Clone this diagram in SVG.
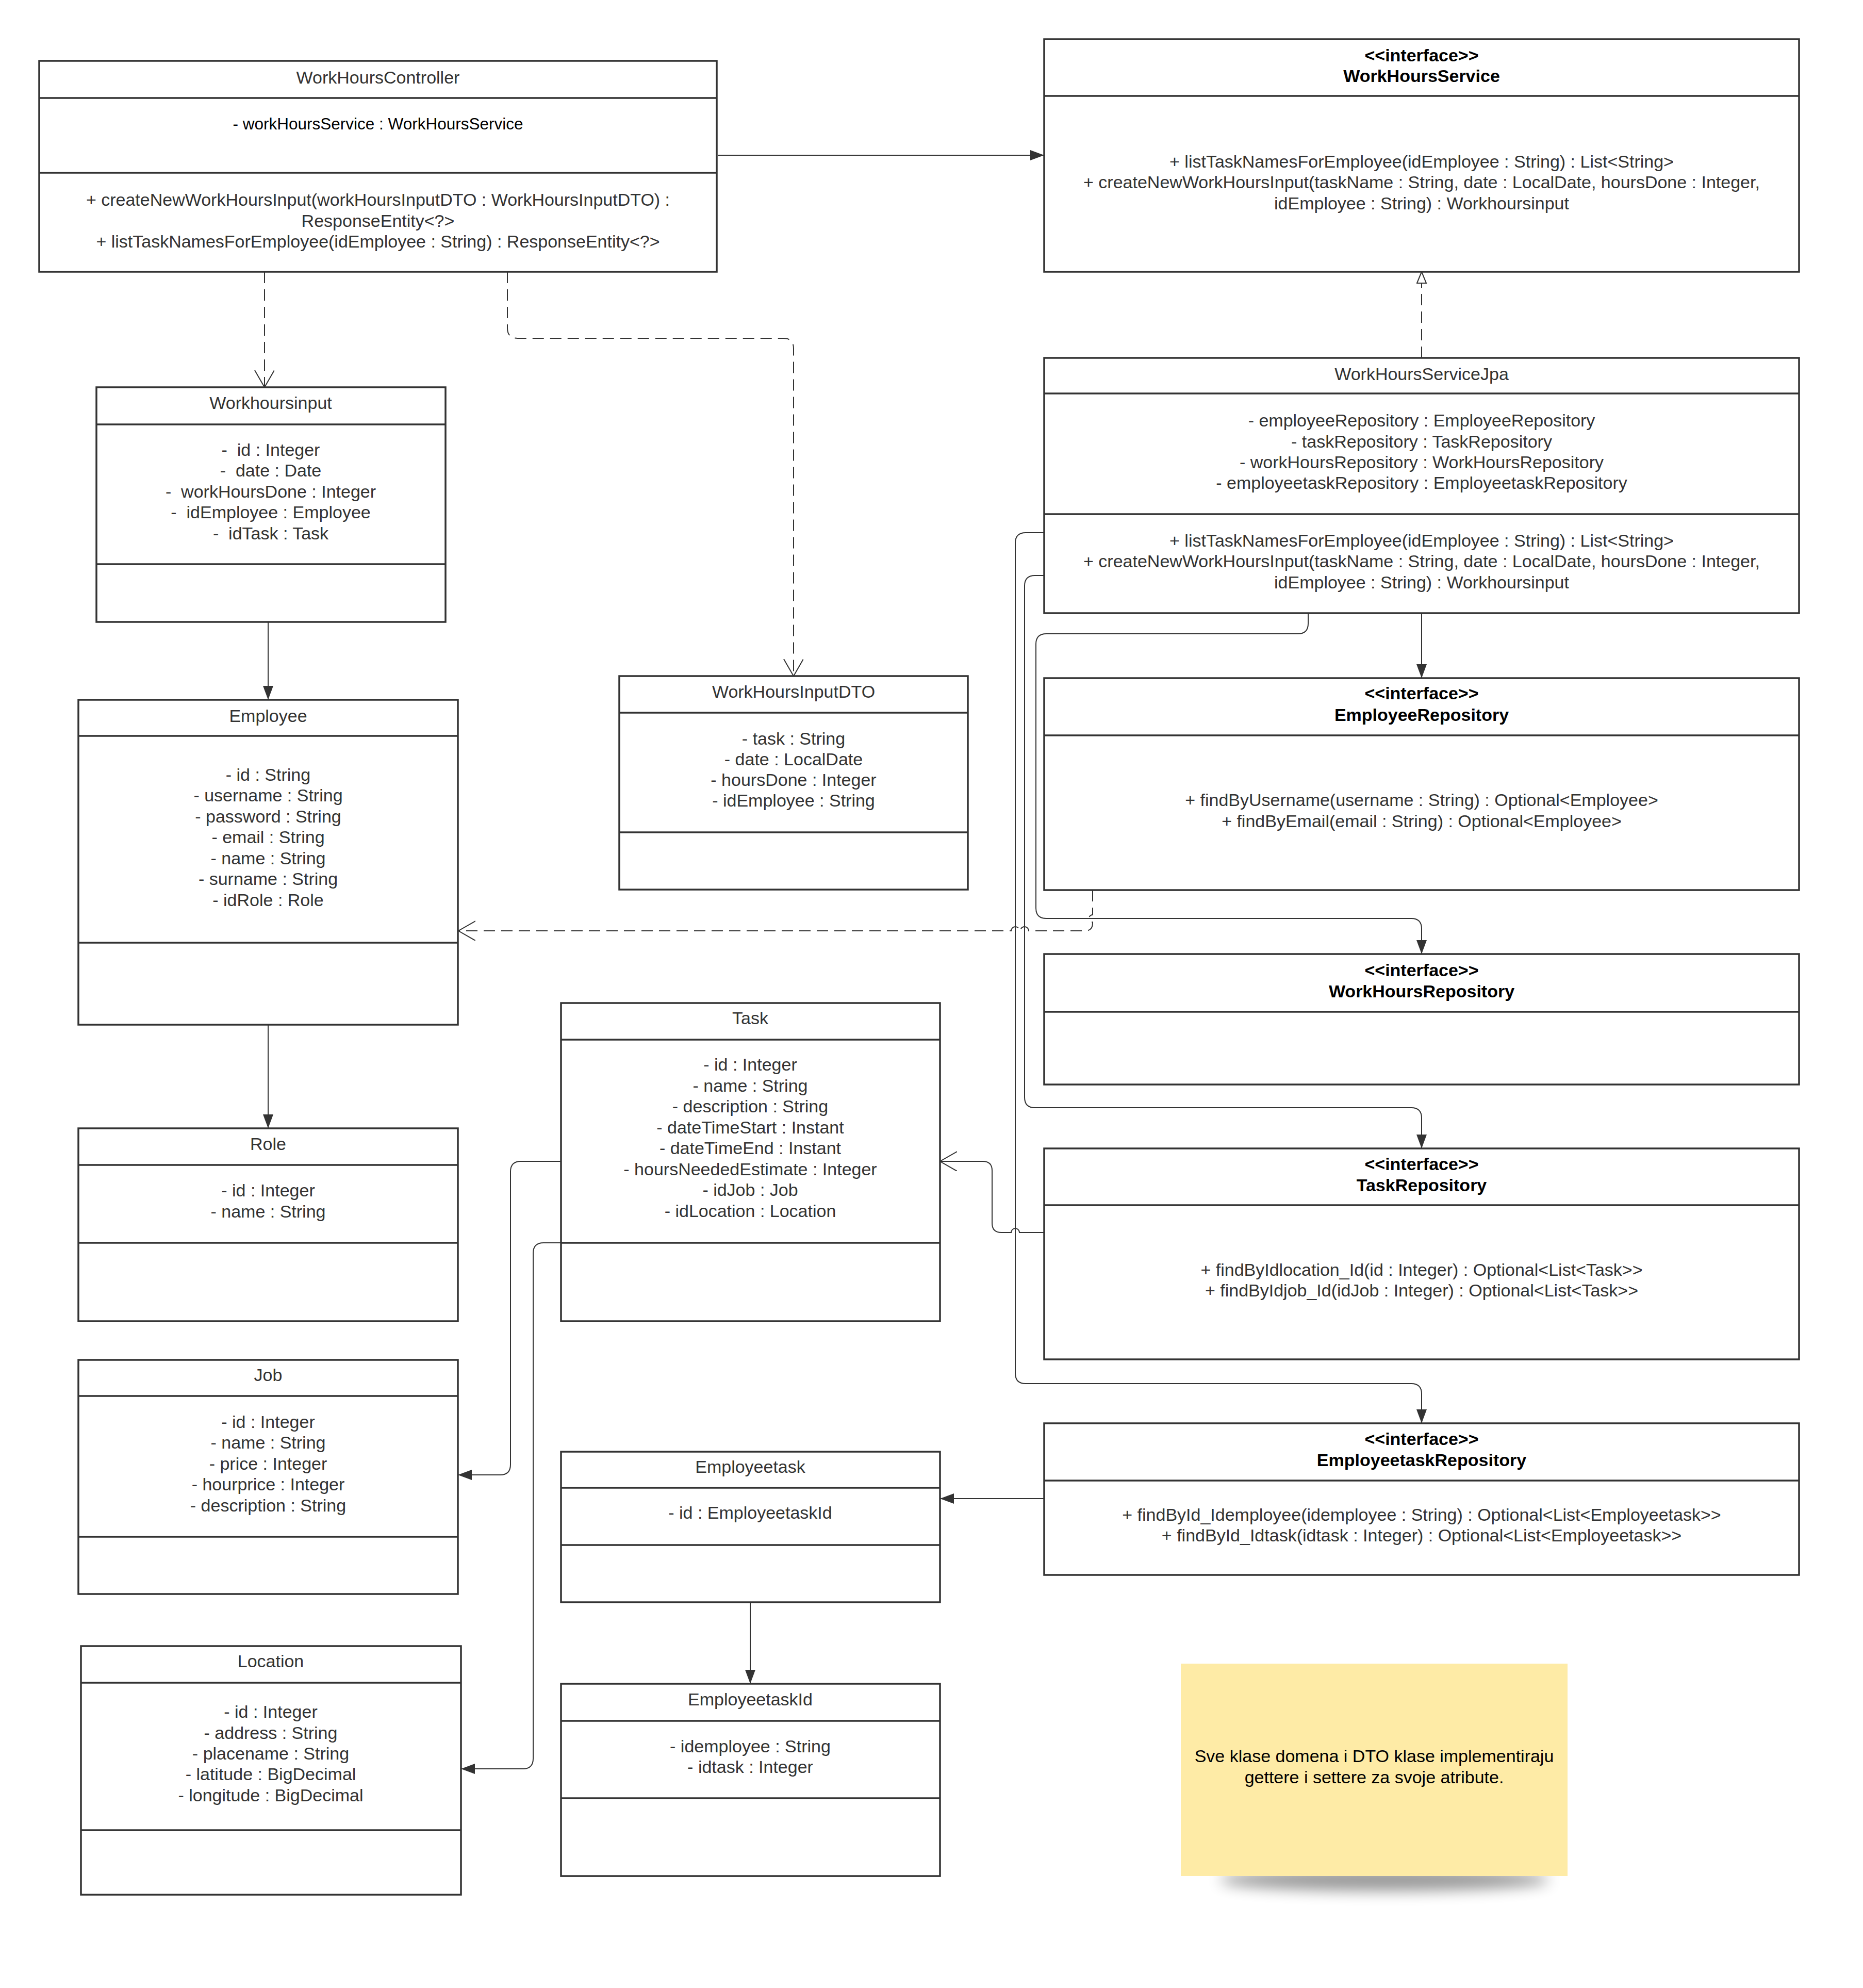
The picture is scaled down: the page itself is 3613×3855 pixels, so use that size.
<svg xmlns="http://www.w3.org/2000/svg" width="3613" height="3855" viewBox="0 0 3613 3855">
<style>
.box{fill:#fff;stroke:#333;stroke-width:3.5}
.div{stroke:#333;stroke-width:3.5}
.t{font-family:"Liberation Sans",Arial,sans-serif;font-size:34px;fill:#333;text-anchor:middle}
.a{font-family:"Liberation Sans",Arial,sans-serif;font-size:31.5px;fill:#000;text-anchor:middle}
.b{font-family:"Liberation Sans",Arial,sans-serif;font-size:34px;fill:#000;font-weight:bold;text-anchor:middle}
.n{font-family:"Liberation Sans",Arial,sans-serif;font-size:34px;fill:#000;text-anchor:middle}
.c{fill:none;stroke:#333;stroke-width:2}
.d{fill:none;stroke:#333;stroke-width:2;stroke-dasharray:22 12}
</style>
<defs>
<marker id="fa" markerUnits="userSpaceOnUse" markerWidth="30" markerHeight="22" refX="27" refY="10" orient="auto"><path d="M0,0 L27,10 L0,20 z" fill="#333"/></marker>
<marker id="oa" markerUnits="userSpaceOnUse" markerWidth="36" markerHeight="42" refX="33" refY="19" orient="auto"><path d="M0,0 L33,19 L0,38" fill="none" stroke="#333" stroke-width="2"/></marker>
<marker id="ht" markerUnits="userSpaceOnUse" markerWidth="26" markerHeight="24" refX="23" refY="10" orient="auto"><path d="M1,1 L23,10 L1,19 z" fill="#fff" stroke="#333" stroke-width="2"/></marker>
<filter id="sh" x="-20%" y="-200%" width="140%" height="500%"><feGaussianBlur stdDeviation="14"/></filter>
</defs>
<rect width="3613" height="3855" fill="#fff"/>

<g id="connectors">
<path class="c" d="M1392,301 H2025" marker-end="url(#fa)"/>
<path class="d" d="M513,527 V751" marker-end="url(#oa)"/>
<path class="d" d="M984,527 V636 Q984,656 1004,656 H1519 Q1539,656 1539,676 V1311" marker-end="url(#oa)"/>
<path class="d" d="M2757,694 V527" marker-end="url(#ht)"/>
<path class="c" d="M2757,1189 V1315" marker-end="url(#fa)"/>
<path class="c" d="M2537,1189 V1209 Q2537,1229 2517,1229 H2029 Q2009,1229 2009,1249 V1761 Q2009,1781 2029,1781 H2737 Q2757,1781 2757,1801 V1850" marker-end="url(#fa)"/>
<path class="c" d="M2025,1116 H2007 Q1987,1116 1987,1136 V2128 Q1987,2148 2007,2148 H2737 Q2757,2148 2757,2168 V2227" marker-end="url(#fa)"/>
<path class="c" d="M2025,1033 H1989 Q1969,1033 1969,1053 V2663 Q1969,2683 1989,2683 H2737 Q2757,2683 2757,2703 V2760" marker-end="url(#fa)"/>
<path class="d" d="M2119,1726 V1774 A7,7 0 0 0 2119,1788 V1790 Q2119,1805 2104,1805 H1995 A8,8 0 0 0 1979,1805 H1977 A8,8 0 0 0 1961,1805 H889" marker-end="url(#oa)"/>
<path class="c" d="M2025,2390 H1977 A8,8 0 0 0 1961,2390 H1942 Q1924,2390 1924,2372 V2270 Q1924,2252 1906,2252 H1823" marker-end="url(#oa)"/>
<path class="c" d="M1088,2252 H1010 Q990,2252 990,2272 V2840 Q990,2860 970,2860 H888" marker-end="url(#fa)"/>
<path class="c" d="M1088,2410 H1054 Q1034,2410 1034,2430 V3410 Q1034,3430 1014,3430 H894" marker-end="url(#fa)"/>
<path class="c" d="M520,1206 V1357" marker-end="url(#fa)"/>
<path class="c" d="M520,1987 V2188" marker-end="url(#fa)"/>
<path class="c" d="M2025,2906 H1823" marker-end="url(#fa)"/>
<path class="c" d="M1455,3107 V3265" marker-end="url(#fa)"/>
</g>

<g id="WorkHoursController">
<rect class="box" x="76" y="118" width="1314" height="409"/>
<line class="div" x1="76" y1="190" x2="1390" y2="190"/>
<line class="div" x1="76" y1="335" x2="1390" y2="335"/>
<text class="t" x="733" y="162">WorkHoursController</text>
<text class="a" x="733" y="251">- workHoursService : WorkHoursService</text>
<text class="t" x="733" y="399">+ createNewWorkHoursInput(workHoursInputDTO : WorkHoursInputDTO) :</text>
<text class="t" x="733" y="440">ResponseEntity&lt;?&gt;</text>
<text class="t" x="733" y="480">+ listTaskNamesForEmployee(idEmployee : String) : ResponseEntity&lt;?&gt;</text>
</g>

<g id="WorkHoursService">
<rect class="box" x="2025" y="76" width="1464" height="451"/>
<line class="div" x1="2025" y1="186" x2="3489" y2="186"/>
<text class="b" x="2757" y="119">&lt;&lt;interface&gt;&gt;</text>
<text class="b" x="2757" y="159">WorkHoursService</text>
<text class="t" x="2757" y="325">+ listTaskNamesForEmployee(idEmployee : String) : List&lt;String&gt;</text>
<text class="t" x="2757" y="365">+ createNewWorkHoursInput(taskName : String, date : LocalDate, hoursDone : Integer,</text>
<text class="t" x="2757" y="406">idEmployee : String) : Workhoursinput</text>
</g>

<g id="Workhoursinput">
<rect class="box" x="187" y="751" width="677" height="455"/>
<line class="div" x1="187" y1="823" x2="864" y2="823"/>
<line class="div" x1="187" y1="1094" x2="864" y2="1094"/>
<text class="t" x="525" y="793">Workhoursinput</text>
<text class="t" xml:space="preserve" x="525" y="884">-  id : Integer</text>
<text class="t" xml:space="preserve" x="525" y="924">-  date : Date</text>
<text class="t" xml:space="preserve" x="525" y="965">-  workHoursDone : Integer</text>
<text class="t" xml:space="preserve" x="525" y="1005">-  idEmployee : Employee</text>
<text class="t" xml:space="preserve" x="525" y="1046">-  idTask : Task</text>
</g>

<g id="WorkHoursInputDTO">
<rect class="box" x="1201" y="1311" width="676" height="414"/>
<line class="div" x1="1201" y1="1382" x2="1877" y2="1382"/>
<line class="div" x1="1201" y1="1614" x2="1877" y2="1614"/>
<text class="t" x="1539" y="1353">WorkHoursInputDTO</text>
<text class="t" x="1539" y="1444">- task : String</text>
<text class="t" x="1539" y="1484">- date : LocalDate</text>
<text class="t" x="1539" y="1524">- hoursDone : Integer</text>
<text class="t" x="1539" y="1564">- idEmployee : String</text>
</g>

<g id="WorkHoursServiceJpa">
<rect class="box" x="2025" y="694" width="1464" height="495"/>
<line class="div" x1="2025" y1="763" x2="3489" y2="763"/>
<line class="div" x1="2025" y1="997" x2="3489" y2="997"/>
<text class="t" x="2757" y="737">WorkHoursServiceJpa</text>
<text class="t" x="2757" y="827">- employeeRepository : EmployeeRepository</text>
<text class="t" x="2757" y="868">- taskRepository : TaskRepository</text>
<text class="t" x="2757" y="908">- workHoursRepository : WorkHoursRepository</text>
<text class="t" x="2757" y="948">- employeetaskRepository : EmployeetaskRepository</text>
<text class="t" x="2757" y="1060">+ listTaskNamesForEmployee(idEmployee : String) : List&lt;String&gt;</text>
<text class="t" x="2757" y="1100">+ createNewWorkHoursInput(taskName : String, date : LocalDate, hoursDone : Integer,</text>
<text class="t" x="2757" y="1141">idEmployee : String) : Workhoursinput</text>
</g>

<g id="EmployeeRepository">
<rect class="box" x="2025" y="1315" width="1464" height="411"/>
<line class="div" x1="2025" y1="1426" x2="3489" y2="1426"/>
<text class="b" x="2757" y="1356">&lt;&lt;interface&gt;&gt;</text>
<text class="b" x="2757" y="1398">EmployeeRepository</text>
<text class="t" x="2757" y="1563">+ findByUsername(username : String) : Optional&lt;Employee&gt;</text>
<text class="t" x="2757" y="1604">+ findByEmail(email : String) : Optional&lt;Employee&gt;</text>
</g>

<g id="WorkHoursRepository">
<rect class="box" x="2025" y="1850" width="1464" height="253"/>
<line class="div" x1="2025" y1="1962" x2="3489" y2="1962"/>
<text class="b" x="2757" y="1893">&lt;&lt;interface&gt;&gt;</text>
<text class="b" x="2757" y="1934">WorkHoursRepository</text>
</g>

<g id="TaskRepository">
<rect class="box" x="2025" y="2227" width="1464" height="409"/>
<line class="div" x1="2025" y1="2337" x2="3489" y2="2337"/>
<text class="b" x="2757" y="2269">&lt;&lt;interface&gt;&gt;</text>
<text class="b" x="2757" y="2310">TaskRepository</text>
<text class="t" x="2757" y="2474">+ findByIdlocation_Id(id : Integer) : Optional&lt;List&lt;Task&gt;&gt;</text>
<text class="t" x="2757" y="2514">+ findByIdjob_Id(idJob : Integer) : Optional&lt;List&lt;Task&gt;&gt;</text>
</g>

<g id="EmployeetaskRepository">
<rect class="box" x="2025" y="2760" width="1464" height="294"/>
<line class="div" x1="2025" y1="2871" x2="3489" y2="2871"/>
<text class="b" x="2757" y="2802">&lt;&lt;interface&gt;&gt;</text>
<text class="b" x="2757" y="2843">EmployeetaskRepository</text>
<text class="t" x="2757" y="2949">+ findById_Idemployee(idemployee : String) : Optional&lt;List&lt;Employeetask&gt;&gt;</text>
<text class="t" x="2757" y="2989">+ findById_Idtask(idtask : Integer) : Optional&lt;List&lt;Employeetask&gt;&gt;</text>
</g>

<g id="Employee">
<rect class="box" x="152" y="1357" width="736" height="630"/>
<line class="div" x1="152" y1="1427" x2="888" y2="1427"/>
<line class="div" x1="152" y1="1828" x2="888" y2="1828"/>
<text class="t" x="520" y="1400">Employee</text>
<text class="t" x="520" y="1514">- id : String</text>
<text class="t" x="520" y="1554">- username : String</text>
<text class="t" x="520" y="1595">- password : String</text>
<text class="t" x="520" y="1635">- email : String</text>
<text class="t" x="520" y="1676">- name : String</text>
<text class="t" x="520" y="1716">- surname : String</text>
<text class="t" x="520" y="1757">- idRole : Role</text>
</g>

<g id="Role">
<rect class="box" x="152" y="2188" width="736" height="374"/>
<line class="div" x1="152" y1="2259" x2="888" y2="2259"/>
<line class="div" x1="152" y1="2410" x2="888" y2="2410"/>
<text class="t" x="520" y="2230">Role</text>
<text class="t" x="520" y="2320">- id : Integer</text>
<text class="t" x="520" y="2361">- name : String</text>
</g>

<g id="Task">
<rect class="box" x="1088" y="1945" width="735" height="617"/>
<line class="div" x1="1088" y1="2016" x2="1823" y2="2016"/>
<line class="div" x1="1088" y1="2410" x2="1823" y2="2410"/>
<text class="t" x="1455" y="1986">Task</text>
<text class="t" x="1455" y="2076">- id : Integer</text>
<text class="t" x="1455" y="2117">- name : String</text>
<text class="t" x="1455" y="2157">- description : String</text>
<text class="t" x="1455" y="2198">- dateTimeStart : Instant</text>
<text class="t" x="1455" y="2238">- dateTimeEnd : Instant</text>
<text class="t" x="1455" y="2279">- hoursNeededEstimate : Integer</text>
<text class="t" x="1455" y="2319">- idJob : Job</text>
<text class="t" x="1455" y="2360">- idLocation : Location</text>
</g>

<g id="Job">
<rect class="box" x="152" y="2637" width="736" height="454"/>
<line class="div" x1="152" y1="2707" x2="888" y2="2707"/>
<line class="div" x1="152" y1="2980" x2="888" y2="2980"/>
<text class="t" x="520" y="2678">Job</text>
<text class="t" x="520" y="2769">- id : Integer</text>
<text class="t" x="520" y="2809">- name : String</text>
<text class="t" x="520" y="2850">- price : Integer</text>
<text class="t" x="520" y="2890">- hourprice : Integer</text>
<text class="t" x="520" y="2931">- description : String</text>
</g>

<g id="Employeetask">
<rect class="box" x="1088" y="2815" width="735" height="292"/>
<line class="div" x1="1088" y1="2885" x2="1823" y2="2885"/>
<line class="div" x1="1088" y1="2996" x2="1823" y2="2996"/>
<text class="t" x="1455" y="2856">Employeetask</text>
<text class="t" x="1455" y="2945">- id : EmployeetaskId</text>
</g>

<g id="EmployeetaskId">
<rect class="box" x="1088" y="3265" width="735" height="373"/>
<line class="div" x1="1088" y1="3337" x2="1823" y2="3337"/>
<line class="div" x1="1088" y1="3487" x2="1823" y2="3487"/>
<text class="t" x="1455" y="3307">EmployeetaskId</text>
<text class="t" x="1455" y="3398">- idemployee : String</text>
<text class="t" x="1455" y="3438">- idtask : Integer</text>
</g>

<g id="Location">
<rect class="box" x="157" y="3192" width="737" height="482"/>
<line class="div" x1="157" y1="3263" x2="894" y2="3263"/>
<line class="div" x1="157" y1="3549" x2="894" y2="3549"/>
<text class="t" x="525" y="3233">Location</text>
<text class="t" x="525" y="3331">- id : Integer</text>
<text class="t" x="525" y="3372">- address : String</text>
<text class="t" x="525" y="3412">- placename : String</text>
<text class="t" x="525" y="3452">- latitude : BigDecimal</text>
<text class="t" x="525" y="3493">- longitude : BigDecimal</text>
</g>

<g id="Note">
<ellipse cx="2685" cy="3645" rx="320" ry="22" fill="#000" opacity="0.4" filter="url(#sh)"/>
<rect x="2290" y="3226" width="750" height="412" fill="#FEEBA6"/>
<text class="n" x="2665" y="3417">Sve klase domena i DTO klase implementiraju</text>
<text class="n" x="2665" y="3458">gettere i settere za svoje atribute.</text>
</g>
</svg>
